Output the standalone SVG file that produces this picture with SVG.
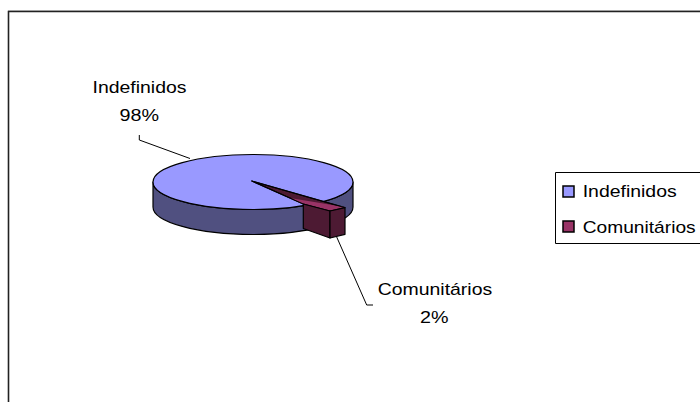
<svg xmlns="http://www.w3.org/2000/svg" width="700" height="402" viewBox="0 0 700 402">
<style>
  .t { font-family: "Liberation Sans", Arial, sans-serif; font-size: 17px; fill: #000; }
  .edge { stroke: #000; stroke-width: 1.2; stroke-linejoin: round; }
  .lead { stroke: #000; stroke-width: 1; fill: none; }
</style>
<rect x="0" y="0" width="700" height="402" fill="#fff"/>
<line x1="8" y1="10.5" x2="700" y2="10.5" stroke="#c8c8c8" stroke-width="1"/>
<path d="M 8.5 402 L 8.5 11.5 L 700 11.5" fill="none" stroke="#222" stroke-width="1.6"/>

<g id="pie-indefinidos">
  <path class="edge" fill="#505080" d="M 153 182 L 153 207 A 100 27.5 0 0 0 353 207 L 353 182 A 100 27.5 0 0 1 153 182 Z"/>
  <ellipse class="edge" cx="253" cy="182" rx="100" ry="27.5" fill="#9999FF"/>
</g>

<g id="pie-comunitarios">
  <polygon class="edge" fill="#4D1A33" points="251.7,181 345,207.7 330,211 303.3,204"/>
  <polygon fill="#993366" points="290,198 343,206.8 345,207.7 330,211 303.3,204"/>
  <polyline class="lead" points="251.7,181 345,207.7 330,211 303.3,204 251.7,181"/>
  <polygon class="edge" fill="#4D1A33" points="303.3,204 330,211 330,238 303.3,228.5"/>
  <polygon class="edge" fill="#4D1A33" points="330,211 345,207.7 345,234.3 330,238"/>
</g>

<g id="connectors">
  <polyline class="lead" points="139.3,135 139.3,140 190,158.5"/>
  <polyline class="lead" points="336.7,237 366.7,305 373,305"/>
</g>

<g id="label-indefinidos">
  <text class="t" x="92.5" y="93" textLength="94" lengthAdjust="spacingAndGlyphs">Indefinidos</text>
  <text class="t" x="119.5" y="121" textLength="39.5" lengthAdjust="spacingAndGlyphs">98%</text>
</g>

<g id="label-comunitarios">
  <text class="t" x="377.7" y="295" textLength="114.5" lengthAdjust="spacingAndGlyphs">Comunitários</text>
  <text class="t" x="420" y="323" textLength="28.5" lengthAdjust="spacingAndGlyphs">2%</text>
</g>

<g id="legend">
  <path d="M 700 172.5 L 555.5 172.5 L 555.5 243.5 L 700 243.5" fill="#fff" stroke="#000" stroke-width="1"/>
  <rect x="563" y="186" width="11" height="11" fill="#9999FF" stroke="#000" stroke-width="1.5"/>
  <text class="t" x="582.7" y="197" textLength="94" lengthAdjust="spacingAndGlyphs">Indefinidos</text>
  <rect x="563" y="221" width="11" height="11" fill="#993366" stroke="#000" stroke-width="1.5"/>
  <text class="t" x="582.7" y="232.5" textLength="113" lengthAdjust="spacingAndGlyphs">Comunitários</text>
</g>
</svg>
